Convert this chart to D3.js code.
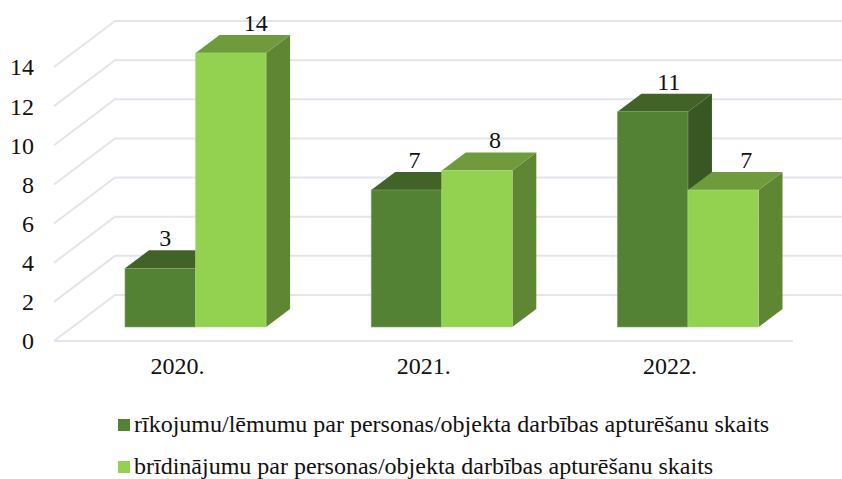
<!DOCTYPE html>
<html>
<head>
<meta charset="utf-8">
<script src="https://cdn.jsdelivr.net/npm/d3@7"></script>
<style>
  html, body { margin: 0; padding: 0; background: #fff; overflow: hidden; }
  text { font-family: "Liberation Serif", serif; fill: #111; }
</style>
</head>
<body>
<svg id="chart" width="842" height="479"></svg>
<script>
var categories = ["2020.", "2021.", "2022."];
var seriesNames = [
  "rīkojumu/lēmumu par personas/objekta darbības apturēšanu skaits",
  "brīdinājumu par personas/objekta darbības apturēšanu skaits"
];
var rikojumi = [3, 7, 11];
var bridinajumi = [14, 8, 7];
var yTicks = [0, 2, 4, 6, 8, 10, 12, 14];

// front, top, side
var shades = [
  { front: "#548235", top: "#426328", side: "#385723", edge: "#7fa566" },
  { front: "#92d250", top: "#6f9b3c", side: "#5f8632", edge: "#a9dc78" }
];

// how far the 3d floor goes back, for the walls and for the bars
var wall = { dx: 61, dy: -46 };
var depth = { dx: 24, dy: -18 };
// data labels sit off centre in the original
var labelShift = [[5, 8, 16], [25, 18, 23]];
var fontSize = "24px";

var svg = d3.select("#chart");
var g = svg.append("g");

var yWall = d3.scaleLinear().domain([0, 14]).range([341, 67]);
var yBar = d3.scaleLinear().domain([0, 14]).range([327, 53]);

var x = d3.scaleBand().domain(categories).range([125, 758.5]).paddingInner(0.427).paddingOuter(0);
var xSeries = d3.scaleBand().domain([0, 1]).range([0, x.bandwidth()]);

var line = d3.line();

// gridlines: diagonal on the left wall, then flat along the back
var wallLeft = 54, wallRight = 793;
yTicks.forEach(function(t) {
  var y0 = yWall(t);
  g.append("path")
    .attr("fill", "none")
    .attr("stroke", "#e2e5ec")
    .attr("stroke-width", 2)
    .attr("d", line([[wallLeft, y0], [wallLeft + wall.dx, y0 + wall.dy], [wallRight + wall.dx, y0 + wall.dy]]));
});
g.append("line")
  .attr("x1", wallLeft).attr("x2", wallRight)
  .attr("y1", yWall(0)).attr("y2", yWall(0))
  .attr("stroke", "#e2e5ec")
  .attr("stroke-width", 2);

// y axis
var axisY = g.append("g")
  .attr("transform", "translate(41,0)")
  .call(d3.axisLeft(yWall).tickValues(yTicks).tickSize(0).tickPadding(7));
axisY.select(".domain").remove();
axisY.selectAll("text").style("font-family", "Liberation Serif").style("font-size", fontSize).attr("dy", "0.33em");

// x axis
var axisX = g.append("g")
  .attr("transform", "translate(-18,354)")
  .call(d3.axisBottom(x).tickSize(0).tickPadding(0));
axisX.select(".domain").remove();
axisX.selectAll("text").style("font-family", "Liberation Serif").style("font-size", fontSize).attr("dy", "0.85em");

// bars
function drawBar(xLeft, value, c) {
  var w = xSeries.bandwidth();
  var yTop = yBar(value), yBase = yBar(0);
  var xRight = xLeft + w;
  g.append("path").attr("fill", c.side)
    .attr("d", line([[xRight, yTop], [xRight + depth.dx, yTop + depth.dy], [xRight + depth.dx, yBase + depth.dy], [xRight, yBase]]) + "Z");
  g.append("path").attr("fill", c.top)
    .attr("d", line([[xLeft, yTop], [xLeft + depth.dx, yTop + depth.dy], [xRight + depth.dx, yTop + depth.dy], [xRight, yTop]]) + "Z");
  g.append("rect")
    .attr("x", xLeft).attr("y", yTop)
    .attr("width", w).attr("height", yBase - yTop)
    .attr("fill", c.front)
    .attr("stroke", c.edge).attr("stroke-width", 0.6);
}

var allSeries = [rikojumi, bridinajumi];
categories.forEach(function(cat, i) {
  allSeries.forEach(function(vals, s) {
    drawBar(x(cat) + xSeries(s), vals[i], shades[s]);
  });
});

// data labels after the bars so none get covered
categories.forEach(function(cat, i) {
  allSeries.forEach(function(vals, s) {
    g.append("text")
      .attr("x", x(cat) + xSeries(s) + xSeries.bandwidth() / 2 + labelShift[s][i])
      .attr("y", yBar(vals[i]) + depth.dy - 4)
      .attr("text-anchor", "middle")
      .style("font-size", fontSize)
      .text(vals[i]);
  });
});

// legend
var legendY = d3.scalePoint().domain([0, 1]).range([431, 473]);
seriesNames.forEach(function(name, s) {
  g.append("rect")
    .attr("x", 118).attr("y", legendY(s) - 12)
    .attr("width", 12).attr("height", 12)
    .attr("fill", shades[s].front);
  g.append("text")
    .attr("x", 134).attr("y", legendY(s) + 1)
    .style("font-size", fontSize)
    .text(name);
});
</script>
</body>
</html>
